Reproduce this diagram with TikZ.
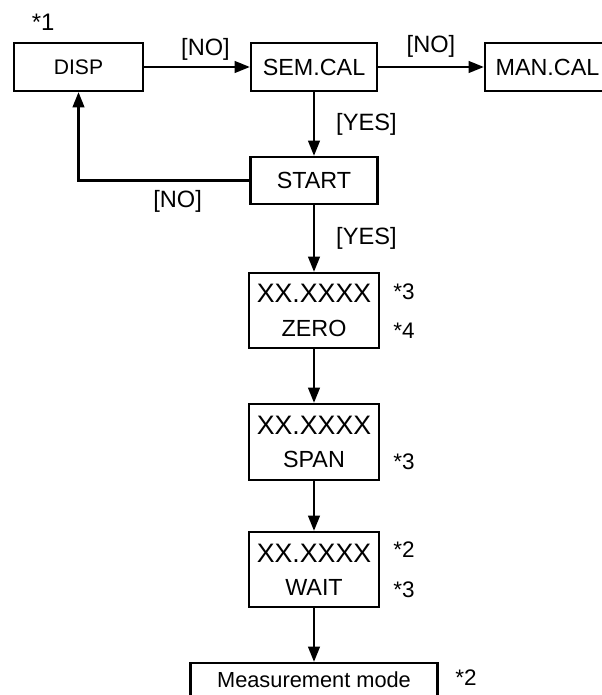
\documentclass[tikz,border=0pt]{standalone}
\usepackage{fontspec}
\setmainfont{Liberation Sans}
\usetikzlibrary{arrows.meta,positioning}
\tikzset{
  box/.style={draw,line width=1.6pt,inner sep=0pt,minimum height=1.2cm,font=\fontsize{16.6}{19}\selectfont},
  twoline/.style={box,align=center,minimum width=3.25cm,minimum height=1.875cm,font=\fontsize{16.6}{23.7}\selectfont},
  arr/.style={line width=1.6pt,-{Triangle[length=3.8mm,width=2.9mm]}},
  lbl/.style={font=\fontsize{16.8}{19}\selectfont,inner sep=2pt},
  note/.style={font=\fontsize{16}{18}\selectfont,anchor=west,inner sep=0pt}
}
\newcommand{\readout}{{\fontsize{19}{22}\selectfont XX.XXXX}}

\begin{document}
\begin{tikzpicture}[x=1cm,y=1cm]
\useasboundingbox (0,0) rectangle (15.05,17.375);
\clip (0,0) rectangle (15.05,17.375);
% menu row
\node[box,minimum width=3.225cm,font=\fontsize{15}{17}\selectfont] (disp) at (1.9625,15.7) {DISP};
\node[box,minimum width=3.15cm] (semcal) at (7.85,15.7) {SEM.CAL};
\node[box,minimum width=3.125cm] (mancal) at (13.6875,15.7) {MAN.CAL};
\node[box,minimum width=3.175cm,minimum height=1.175cm] (start) at (7.85,12.8625) {START};
% calibration steps
\node[twoline] (zero) at (7.85,9.6125) {\readout\\ZERO};
\node[twoline,minimum height=1.9cm] (span) at (7.85,6.325) {\readout\\SPAN};
\node[twoline] (wait) at (7.85,3.1375) {\readout\\WAIT};
\node[box,minimum width=6.175cm,minimum height=0.85cm,font=\fontsize{15.5}{18}\selectfont] (meas) at (7.85,0.375) {Measurement mode};

\draw[arr] (disp) -- node[lbl,above=2pt,pos=0.58] (no1) {[NO]} (semcal);
\draw[arr] (semcal) -- node[lbl,above=4pt] (no2) {[NO]} (mancal);
\draw[arr] (semcal) -- node[lbl,right=13pt] (yes1) {[YES]} (start);
\draw[arr] (start.west) -| node[lbl,below=4pt,pos=0.21] (no3) {[NO]} (disp.south);
\draw[arr] (start) -- node[lbl,right=13pt] (yes2) {[YES]} (zero);
\foreach \a/\b in {zero/span,span/wait,wait/meas}
  \draw[arr] (\a) -- (\b);

% footnote marks
\node[note,font=\fontsize{17}{19}\selectfont] (mark1) at (0.79,16.825) {*1};
\foreach \i/\x/\y/\t in {2/9.825/10.075/*3,3/9.825/9.1/*4,4/9.825/5.825/*3,5/9.825/3.6375/*2,6/9.825/2.6375/*3,7/11.375/0.425/*2}
  \node[note] (mark\i) at (\x,\y) {\t};
\end{tikzpicture}
\end{document}
